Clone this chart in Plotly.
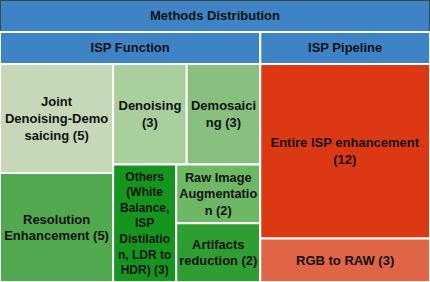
import plotly.graph_objects as go

ids = ["root", "func", "pipe",
       "joint", "denoise", "demosaic", "resolution", "others",
       "rawaug", "artifacts", "entire", "rgb2raw"]
SP = "<span style='font-size:19px'>\u00a0</span>"
labels = [SP + "Methods Distribution" + SP,
          SP + "ISP Function" + SP,
          SP + "ISP Pipeline" + SP,
          "Joint<br>Denoising-Demo<br>saicing (5)",
          "Denoising<br>(3)",
          "Demosaici<br>ng (3)",
          "Resolution<br>Enhancement (5)",
          "Others<br>(White<br>Balance,<br>ISP<br>Distilatio<br>n, LDR to<br>HDR) (3)",
          "Raw Image<br>Augmentatio<br>n (2)",
          "Artifacts<br>reduction (2)",
          "Entire ISP enhancement<br>(12)",
          "RGB to RAW (3)"]
parents = ["", "root", "root",
           "func", "func", "func", "func", "func", "func", "func",
           "pipe", "pipe"]
values = [0, 0, 0, 5, 3, 3, 5, 3, 2, 2, 12, 3]
colors = ["#3d83c6", "#3d83c6", "#3d83c6",
          "#c6d8b8", "#a8cf9c", "#87c07f", "#52a84e",
          "#14961e", "#6cb864", "#2f9e32",
          "#dc3814", "#e06446"]
font_sizes = [13, 13, 13, 13, 13, 13, 13, 12, 13, 13, 13, 13]

fig = go.Figure(go.Treemap(
    ids=ids,
    labels=labels,
    parents=parents,
    values=values,
    texttemplate="%{label}",
    textposition="middle center",
    branchvalues="remainder",
    sort=True,
    marker=dict(colors=colors, line=dict(color="white", width=2),
                pad=dict(t=32, l=0, r=0, b=0)),
    root=dict(color="#3d83c6"),
    pathbar=dict(visible=False),
    tiling=dict(packing="squarify", pad=0),
    textfont=dict(family="Liberation Sans, Arial, sans-serif", size=font_sizes,
                  color="#111111", weight="bold"),
    hoverinfo="skip",
))
fig.update_layout(
    width=430, height=282,
    margin=dict(l=0, r=0, t=0, b=0),
    paper_bgcolor="white",
)
fig.write_html(
    "out.html",
    config={"displayModeBar": False},
    post_script="document.body.style.margin='0';document.body.style.overflow='hidden';",
)
